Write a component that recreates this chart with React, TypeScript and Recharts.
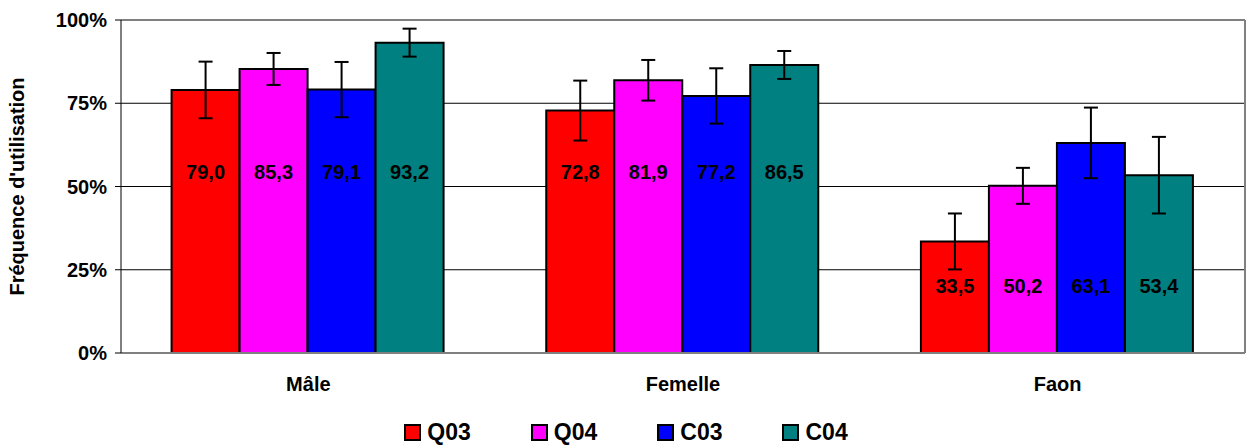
import React from "react";
import { BarChart, Bar, XAxis, YAxis, CartesianGrid, ErrorBar, LabelList, Legend } from "recharts";

const categories = ["Mâle", "Femelle", "Faon"];
const q03 = [79.0, 72.8, 33.5];
const q04 = [85.3, 81.9, 50.2];
const c03 = [79.1, 77.2, 63.1];
const c04 = [93.2, 86.5, 53.4];
// error bar half-widths
const q03Err = [8.5, 9.0, 8.4];
const q04Err = [4.8, 6.1, 5.4];
const c03Err = [8.3, 8.3, 10.6];
const c04Err = [4.2, 4.2, 11.5];
// height (in %) where the value labels sit in each group
const labelAt = [54.4, 54.4, 20.2];
const yTicks = [0, 25, 50, 75, 100];

const series = [
  { key: "Q03", values: q03, errors: q03Err, color: "#FF0000" },
  { key: "Q04", values: q04, errors: q04Err, color: "#FF00FF" },
  { key: "C03", values: c03, errors: c03Err, color: "#0000FF" },
  { key: "C04", values: c04, errors: c04Err, color: "#008080" },
];

const data = categories.map((name, i) => {
  const row: Record<string, any> = { name, pos: i + 0.5 };
  series.forEach(s => {
    row[s.key] = s.values[i];
    row[s.key + "_err"] = s.errors[i];
  });
  return row;
});

const FONT = "'Liberation Sans', Arial, sans-serif";

const ValueLabel = (props: any) => {
  const { x, y, width, height, value, index } = props;
  // bar's own geometry gives the scale: base at y+height, height/value px per unit
  const base = y + height;
  const cy = base - (height / value) * labelAt[index];
  return (
    <text x={x + width / 2} y={cy + 7} textAnchor="middle" fontFamily={FONT} fontWeight="bold" fontSize={20} fill="#000">
      {value.toFixed(1).replace(".", ",")}
    </text>
  );
};

const CatTick = (props: any) => {
  const { x, y, payload } = props;
  return (
    <text x={x} y={y + 38} textAnchor="middle" fontFamily={FONT} fontWeight="bold" fontSize={20} fill="#000">
      {payload.value}
    </text>
  );
};

const YLabel = (props: any) => {
  const { viewBox } = props;
  const cy = viewBox.y + viewBox.height / 2;
  return (
    <text x={24} y={cy} transform={`rotate(-90 24 ${cy})`} textAnchor="middle" fontFamily={FONT} fontWeight="bold" fontSize={20} fill="#000">
      Fréquence d'utilisation
    </text>
  );
};

const LegendContent = () => (
  <div style={{ display: "flex", justifyContent: "center", gap: 60, paddingLeft: 6, fontFamily: FONT, fontWeight: "bold", fontSize: 23, lineHeight: "23px" }}>
    {series.map(s => (
      <div key={s.key} style={{ display: "flex", alignItems: "center" }}>
        <span style={{ width: 13, height: 13, background: s.color, border: "2px solid #000", marginRight: 6, display: "inline-block" }} />
        <span>{s.key}</span>
      </div>
    ))}
  </div>
);

export default function App() {
  return (
    <div style={{ position: "absolute", left: 0, top: 0, width: 1246, height: 445, background: "#fff" }}>
      <BarChart
        width={1246}
        height={445}
        data={data}
        margin={{ top: 20, right: 0, left: 0, bottom: 42 }}
        barCategoryGap="13.5%"
        barGap={0}
      >
        <CartesianGrid vertical={false} stroke="#000" strokeWidth={1} />
        <XAxis
          xAxisId="t"
          dataKey="pos"
          type="number"
          domain={[0, 3]}
          ticks={[0, 1, 2, 3]}
          height={0}
          axisLine={false}
          tickLine={{ stroke: "#000", strokeWidth: 1 }}
          tickSize={6}
          tick={() => <g />}
        />
        <XAxis
          dataKey="name"
          height={50}
          axisLine={{ stroke: "#808080", strokeWidth: 2 }}
          tickLine={false}
          tickSize={0}
          tickMargin={0}
          tick={<CatTick />}
        />
        <YAxis
          width={121}
          domain={[0, 100]}
          ticks={yTicks}
          tickFormatter={(v: number) => v + "%"}
          tick={{ fontFamily: FONT, fontWeight: "bold", fontSize: 20, fill: "#000" }}
          tickSize={6}
          tickMargin={8}
          tickLine={{ stroke: "#000" }}
          axisLine={{ stroke: "#000", strokeWidth: 1 }}
          label={<YLabel />}
        />
        <YAxis yAxisId="r" orientation="right" width={1} tick={false} tickLine={false} axisLine={{ stroke: "#808080", strokeWidth: 2 }} />
        <Legend layout="horizontal" verticalAlign="middle" align="center" content={<LegendContent />} wrapperStyle={{ position: "absolute", top: 421, left: 0, width: 1246 }} />
        {series.map(s => (
          <Bar key={s.key} dataKey={s.key} fill={s.color} stroke="#000" strokeWidth={2} isAnimationActive={false}>
            <ErrorBar dataKey={s.key + "_err"} width={7} stroke="#000" strokeWidth={2} direction="y" />
            <LabelList dataKey={s.key} content={<ValueLabel />} />
          </Bar>
        ))}
      </BarChart>
    </div>
  );
}
